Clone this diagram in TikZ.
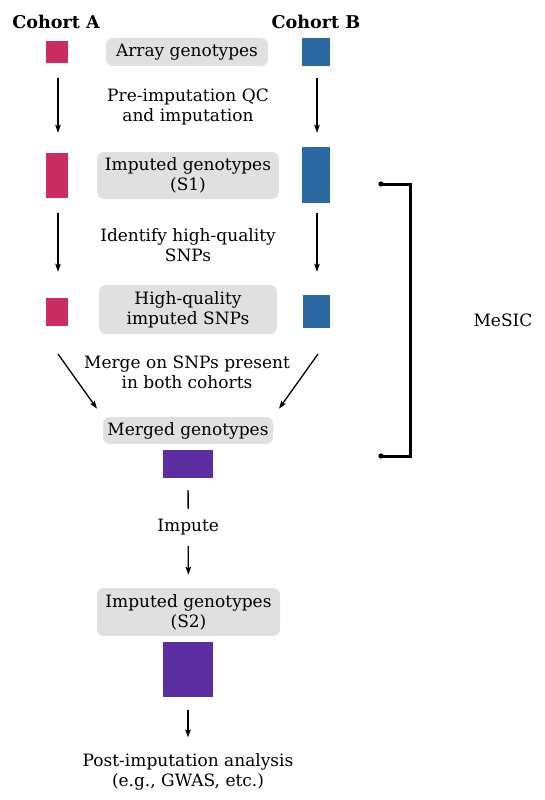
\documentclass[tikz,border=0pt]{standalone}
\usepackage{fontspec}
\setmainfont{DejaVu Serif}
\usepackage{xcolor}
\usetikzlibrary{positioning,arrows.meta}

\definecolor{cohorta}{HTML}{C92C5E}
\definecolor{cohortb}{HTML}{2C69A3}
\definecolor{merged}{HTML}{5A2DA0}
\definecolor{stagegray}{HTML}{E0E0E0}

\tikzset{
	stage/.style={fill=stagegray, rounded corners=7pt, align=center, inner sep=0pt},
	geno/.style={inner sep=0pt, minimum width=#1},
	flow/.style={-{Stealth[length=8pt,width=5.5pt,inset=1.5pt]}, line width=1.3pt},
	label/.style={align=center, inner sep=0pt, font=\fontsize{17}{20}\selectfont},
}

\begin{document}
\begin{tikzpicture}[x=1pt, y=-1pt, font=\fontsize{17}{20}\selectfont]
			\useasboundingbox (0,0) rectangle (545,800);
			% cohort headings
			\node [font=\fontsize{17.6}{20}\selectfont\bfseries] (ha) at (56,22) {Cohort A};
			\node [font=\fontsize{17.6}{20}\selectfont\bfseries] (hb) at (316,22) {Cohort B};
			% stages
			\node [stage, minimum width=162pt, minimum height=28pt] (s0) at (187,52) {Array genotypes};
			\node [stage, minimum width=182pt, minimum height=47pt] (s1) at (188,175.5) {Imputed genotypes\\(S1)};
			\node [stage, minimum width=178pt, minimum height=49pt] (hq) at (188,309.5) {High-quality\\imputed SNPs};
			\node [stage, minimum width=170pt, minimum height=27pt] (m) at (188,430.5) {Merged genotypes};
			\node [stage, minimum width=183pt, minimum height=48pt] (s2) at (188.5,612) {Imputed genotypes\\(S2)};
			% genotype blocks
			\node [geno=22pt, minimum height=22pt, fill=cohorta] (a0) at (57,52) {};
			\node [geno=22pt, minimum height=45pt, fill=cohorta] (a1) at (57,175.5) {};
			\node [geno=22pt, minimum height=28pt, fill=cohorta] (a2) at (57,312) {};
			\node [geno=28pt, minimum height=28pt, fill=cohortb] (b0) at (316,52) {};
			\node [geno=28pt, minimum height=56pt, fill=cohortb] (b1) at (316,175) {};
			\node [geno=27pt, minimum height=33pt, fill=cohortb] (b2) at (316.5,311.5) {};
			\node [geno=50pt, minimum height=28pt, fill=merged] (p1) at (188,464) {};
			\node [geno=50pt, minimum height=55pt, fill=merged] (p2) at (188,669.5) {};
			% step texts
			\node [label] (t1) at (188,107) {Pre-imputation QC\\and imputation};
			\node [label] (t2) at (188,245) {Identify high-quality\\SNPs};
			\node [label] (t3) at (187,372) {Merge on SNPs present\\in both cohorts};
			\node [label] (post) at (188,772) {Post-imputation analysis\\(e.g., GWAS, etc.)};
			\node [label] (ms) at (503,320) {MeSIC};
			\coordinate (ma) at (58,354);
			\coordinate (mb) at (318,354);
			\coordinate (bt) at (381,184);
			\coordinate (bb) at (381,456);
			% arrows
			\draw [flow, shorten <=15pt, shorten >=20pt] ([xshift=1pt]a0.south) -- ([xshift=1pt]a1.north);
			\draw [flow, shorten <=12pt, shorten >=14pt] ([xshift=1pt]b0.south) -- ([xshift=1pt]b1.north);
			\draw [flow, shorten <=15pt, shorten >=26pt] ([xshift=1pt]a1.south) -- ([xshift=1pt]a2.north);
			\draw [flow, shorten <=10pt, shorten >=23pt] ([xshift=1pt]b1.south) -- ([xshift=0.5pt]b2.north);
			\draw [flow, shorten >=10pt] (ma) -- (m.north west);
			\draw [flow, shorten >=10pt] (mb) -- (m.north east);
			\draw [flow, shorten <=12pt, shorten >=13pt] (p1) -- node [pos=0.45, fill=white, inner xsep=4pt, inner ysep=11pt] (imp) {Impute} (s2);
			\draw [flow, shorten <=13pt, shorten >=16pt] (p2) -- (post);
			% bracket
			\draw [line width=3pt] (bt) -- ++(29,0) -- ++(0,272) -- (bb);
			\fill (bt) circle (2.6pt);
			\fill (bb) circle (2.6pt);
\end{tikzpicture}
\end{document}
